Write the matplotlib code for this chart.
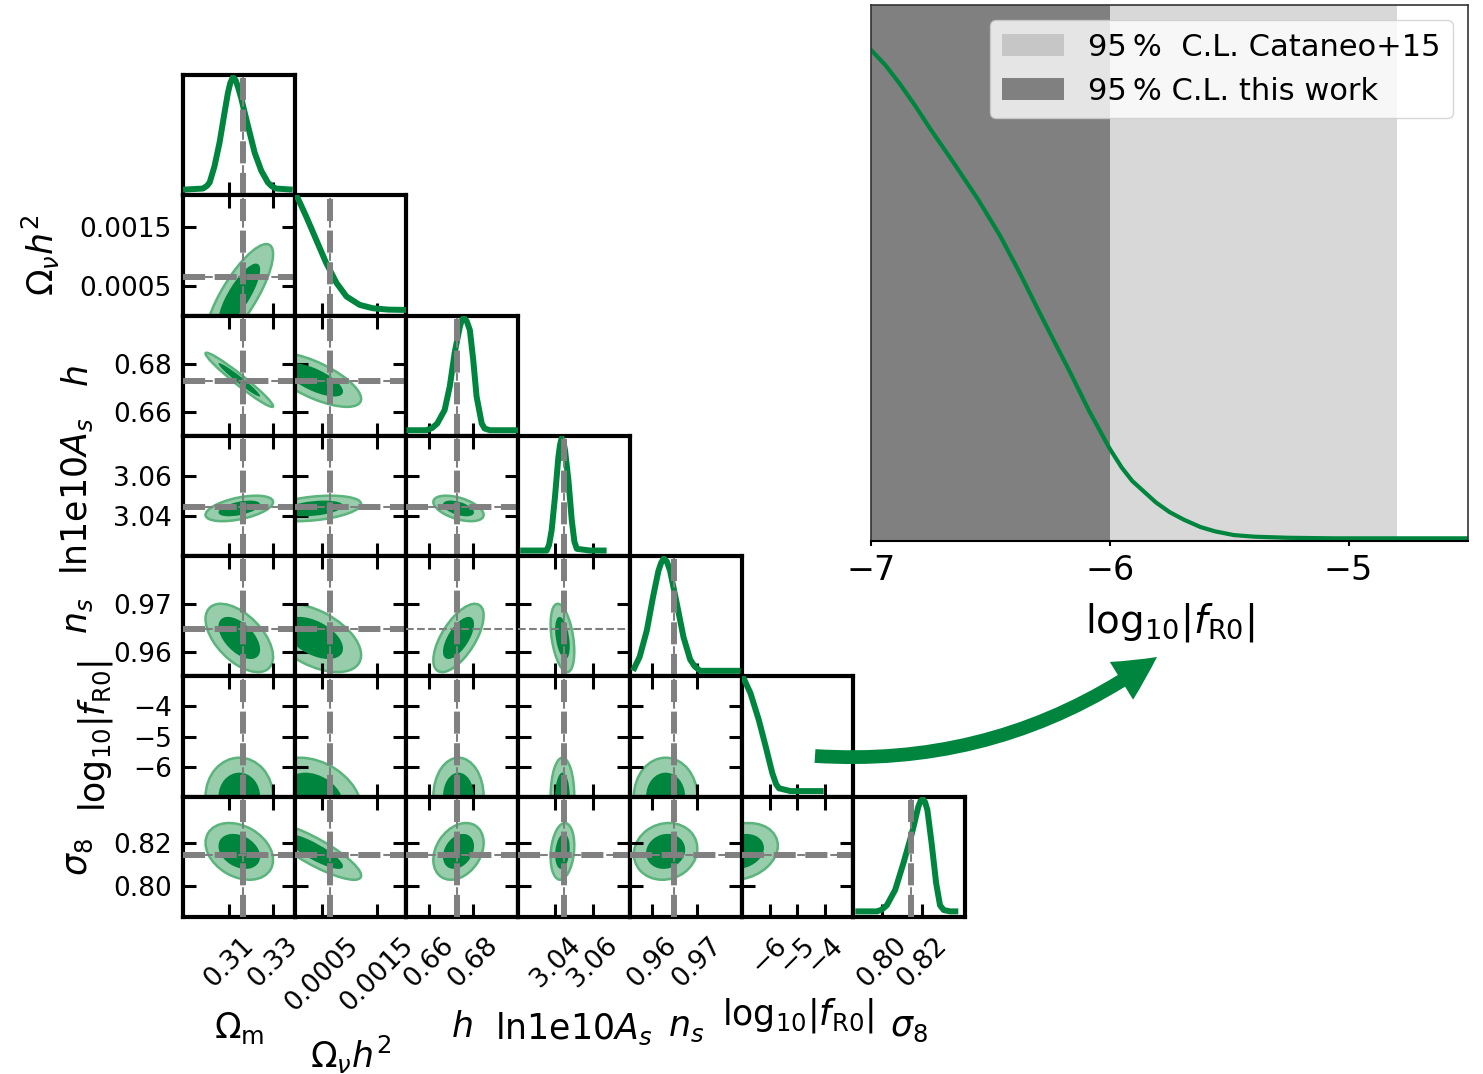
import numpy as np
import matplotlib
matplotlib.use('Agg')
import matplotlib.pyplot as plt
from matplotlib.patches import Ellipse, FancyArrowPatch

# parameters of the corner plot
labels = [r'$\Omega_{\rm m}$', r'$\Omega_\nu h^2$', r'$h$', r'$\mathrm{ln1e10}A_s$',
          r'$n_s$', r'$\mathrm{log}_{10}|f_{\rm R0}|$', r'$\sigma_8$']
ranges = [(0.289, 0.340), (0.0, 0.00203), (0.650, 0.700), (3.020, 3.080),
          (0.955, 0.980), (-7.0, -3.0), (0.786, 0.841)]
ticks = [[0.31, 0.33], [0.0005, 0.0015], [0.66, 0.68], [3.04, 3.06],
         [0.96, 0.97], [-6, -5, -4], [0.80, 0.82]]
tick_text = [['0.31', '0.33'], ['0.0005', '0.0015'], ['0.66', '0.68'], ['3.04', '3.06'],
             ['0.96', '0.97'], ['\u22126', '\u22125', '\u22124'], ['0.80', '0.82']]
fiducial = [0.3166, 0.000644, 0.6727, 3.0446, 0.9649, None, 0.8145]

# 1D marginals (peak normalised to 1)
om_x = [0.2890, 0.2981, 0.3000, 0.3012, 0.3034, 0.3057, 0.3080, 0.3095, 0.3106, 0.3118,
        0.3130, 0.3140, 0.3155, 0.3171, 0.3194, 0.3217, 0.3247, 0.3277, 0.3295, 0.3315, 0.3391]
om_p = [0.0, 0.01, 0.035, 0.065, 0.21, 0.42, 0.69, 0.86, 0.95, 1.0,
        0.975, 0.92, 0.82, 0.69, 0.51, 0.33, 0.17, 0.065, 0.03, 0.01, 0.0]
nu_x = [0.0, 0.00006, 0.00021, 0.00039, 0.00057, 0.00076, 0.00094, 0.00118, 0.00142,
        0.00170, 0.00203]
nu_p = [1.04, 0.99, 0.83, 0.625, 0.42, 0.24, 0.12, 0.045, 0.015, 0.003, 0.0]
h_x = [0.650, 0.6589, 0.6615, 0.6638, 0.6671, 0.6694, 0.6716, 0.6739, 0.6748, 0.6757,
       0.6770, 0.6784, 0.6799, 0.6814, 0.6837, 0.6850, 0.6874, 0.700]
h_p = [0.0, 0.0, 0.02, 0.06, 0.18, 0.39, 0.69, 0.92, 0.98, 1.0,
       0.97, 0.89, 0.625, 0.30, 0.06, 0.015, 0.0, 0.0]
lnas_x = [3.0211, 3.0353, 3.0366, 3.0380, 3.0398, 3.0416, 3.0425, 3.0434, 3.0443, 3.0452,
          3.0470, 3.0488, 3.0502, 3.0515, 3.0586, 3.0675]
lnas_p = [0.0, 0.0, 0.05, 0.18, 0.48, 0.83, 0.94, 1.0, 0.97, 0.89,
          0.625, 0.27, 0.08, 0.015, 0.0, 0.0]
ns_x = [0.9557, 0.9572, 0.9588, 0.9602, 0.9614, 0.9620, 0.9626, 0.9633, 0.9640, 0.9655,
        0.9670, 0.9685, 0.9695, 0.9707, 0.9798]
ns_p = [0.0, 0.125, 0.36, 0.66, 0.89, 0.96, 1.0, 0.97, 0.89, 0.60,
        0.30, 0.10, 0.04, 0.0, 0.0]
fr_x = [-7.0, -6.92, -6.68, -6.38, -6.14, -5.90, -5.76, -5.66, -5.25, -4.06]
fr_p = [1.03, 1.0, 0.87, 0.63, 0.40, 0.16, 0.06, 0.025, 0.0, 0.0]
s8_x = [0.787, 0.7976, 0.8000, 0.8025, 0.8066, 0.8107, 0.8148, 0.8180, 0.8191, 0.8202,
        0.8214, 0.8225, 0.8246, 0.8268, 0.8287, 0.8305, 0.8336, 0.8377]
s8_p = [0.0, 0.0, 0.015, 0.054, 0.19, 0.43, 0.69, 0.93, 0.98, 1.0,
        0.97, 0.90, 0.60, 0.25, 0.054, 0.012, 0.0, 0.0]
curve_x = [om_x, nu_x, h_x, lnas_x, ns_x, fr_x, s8_x]
curve_p = [om_p, nu_p, h_p, lnas_p, ns_p, fr_p, s8_p]

# 2D contours: centre, width and correlation of each parameter pair
mu2 = [0.3147, 0.00035, 0.6733, 3.0438, 0.9630, -7.0, 0.8160]
sd2 = [0.0063, 0.00035, 0.0046, 0.0026, 0.0029, 0.53, 0.0053]
rho = [[1.0, 0.8, -0.97, 0.5, -0.55, 0.0, -0.3],
       [0.8, 1.0, -0.7, 0.35, -0.5, -0.3, -0.85],
       [-0.97, -0.7, 1.0, -0.5, 0.65, 0.0, 0.3],
       [0.5, 0.35, -0.5, 1.0, -0.4, 0.0, 0.2],
       [-0.55, -0.5, 0.65, -0.4, 1.0, 0.0, 0.1],
       [0.0, -0.3, 0.0, 0.0, 0.0, 1.0, 0.2],
       [-0.3, -0.85, 0.3, 0.2, 0.1, 0.2, 1.0]]
thin_only = [(4, 2), (4, 3)]

# inset: log10|fR0| posterior and bounds
fri_x = [-7.0, -6.94, -6.881, -6.815, -6.749, -6.65, -6.55, -6.46, -6.377, -6.293,
         -6.23, -6.17, -6.087, -6.0, -5.95, -5.906, -5.807, -5.75, -5.691, -5.62,
         -5.559, -5.48, -5.393, -5.25, -5.063, -4.5]
fri_p = [0.916, 0.888, 0.854, 0.812, 0.767, 0.703, 0.636, 0.570, 0.500, 0.425,
         0.370, 0.318, 0.243, 0.172, 0.137, 0.112, 0.072, 0.054, 0.040, 0.026,
         0.018, 0.011, 0.008, 0.006, 0.005, 0.005]
bound_this = -6.0
bound_cataneo = -4.796

green = '#00853e'
light = '#98cdab'
edge = '#5ab47c'

fig = plt.figure(figsize=(14.83, 10.74), dpi=100)
W, H = 1483.0, 1074.0
x0, x1 = 183 / W, 965 / W
y0, y1 = 1 - 917 / H, 1 - 75 / H
n = 7
cw = (x1 - x0) / n
ch = (y1 - y0) / n
k68 = np.sqrt(-2 * np.log(0.32))
k95 = np.sqrt(-2 * np.log(0.05))


def add_ellipse(ax, j, i, k, **kw):
    sx, sy = sd2[j], sd2[i]
    r = rho[i][j]
    cov = np.array([[sx * sx, r * sx * sy], [r * sx * sy, sy * sy]])
    vals, vecs = np.linalg.eigh(cov)
    ang = np.degrees(np.arctan2(vecs[1, 1], vecs[0, 1]))
    e = Ellipse((mu2[j], mu2[i]), 2 * k * np.sqrt(vals[1]), 2 * k * np.sqrt(vals[0]),
                angle=ang, **kw)
    ax.add_patch(e)


for i in range(n):
    for j in range(i + 1):
        ax = fig.add_axes([x0 + j * cw, y1 - (i + 1) * ch, cw, ch])
        for s in ax.spines.values():
            s.set_linewidth(3)
        ax.set_xlim(ranges[j])
        ax.set_xticks(ticks[j])
        if i == j:
            ax.plot(curve_x[i], curve_p[i], color=green, lw=4.3,
                    solid_joinstyle='round', solid_capstyle='butt', zorder=3)
            ax.set_ylim(-0.05, 1.02)
            ax.set_yticks([])
            ax.tick_params(axis='x', direction='in', length=9.5, width=2.2,
                           labelsize=19, pad=11)
            if fiducial[i] is not None:
                ax.axvline(fiducial[i], color='gray', lw=1.5, ls='--', zorder=4)
                ax.axvline(fiducial[i], color='gray', lw=4.3, ls='--', zorder=5)
        else:
            ax.set_ylim(ranges[i])
            ax.set_yticks(ticks[i])
            add_ellipse(ax, j, i, k95, facecolor=light, edgecolor=edge, lw=1.8, zorder=1)
            add_ellipse(ax, j, i, k68, facecolor=green, edgecolor='none', zorder=2)
            ax.tick_params(direction='in', top=True, right=True, length=9.5, width=2.2,
                           labelsize=19)
            ax.tick_params(axis='x', pad=11)
            ax.tick_params(axis='y', pad=8)
            if fiducial[j] is not None:
                ax.axvline(fiducial[j], color='gray', lw=1.5, ls='--', zorder=4)
                ax.axvline(fiducial[j], color='gray', lw=4.3, ls='--', zorder=5)
            if fiducial[i] is not None:
                ax.axhline(fiducial[i], color='gray', lw=1.5, ls='--', zorder=4)
                if (i, j) not in thin_only:
                    ax.axhline(fiducial[i], color='gray', lw=4.3, ls='--', zorder=5)
        if i == n - 1:
            ax.set_xticklabels(tick_text[j], rotation=45)
            ax.set_xlabel(labels[j], fontsize=25, labelpad=13)
        else:
            ax.set_xticklabels([])
        if j == 0 and i > 0:
            ax.set_yticklabels(tick_text[i])
            ax.set_ylabel(labels[i], fontsize=25, labelpad=13)
        elif i != j:
            ax.set_yticklabels([])

# inset with the fR0 constraint
axi = fig.add_axes([871 / W, 1 - 541 / H, (1468 - 871) / W, (541 - 5) / H])
axi.axvspan(-7.0, bound_cataneo, color='gray', alpha=0.3, lw=0,
            label='95\u2009%  C.L. Cataneo+15')
axi.axvspan(-7.0, bound_this, color='gray', alpha=1.0, lw=0,
            label='95\u2009% C.L. this work')
axi.plot(fri_x, fri_p, color=green, lw=3, solid_joinstyle='round')
axi.set_xlim(-7.0, -4.5)
axi.set_ylim(0, 1.0)
axi.set_yticks([])
axi.set_xticks([-7, -6, -5])
axi.set_xticklabels(['\u22127', '\u22126', '\u22125'])
axi.tick_params(axis='x', labelsize=24, width=1.5, pad=6)
axi.set_xlabel(r'$\mathrm{log}_{10}|f_{\rm R0}|$', fontsize=28, labelpad=10)
for s in axi.spines.values():
    s.set_linewidth(1.2)
    s.set_color('#333333')
axi.spines['bottom'].set_color('black')
axi.spines['bottom'].set_linewidth(1.5)
axi.legend(loc='upper right', fontsize=22)

arrow = FancyArrowPatch((815 / W, 1 - 756 / H), (1157 / W, 1 - 657 / H),
                        transform=fig.transFigure,
                        arrowstyle='simple,head_length=1.4,head_width=1.45,tail_width=0.45',
                        mutation_scale=22, connectionstyle='arc3,rad=0.18',
                        color=green, lw=0, shrinkA=0, shrinkB=0)
fig.add_artist(arrow)

fig.savefig('out.png', dpi=100)
